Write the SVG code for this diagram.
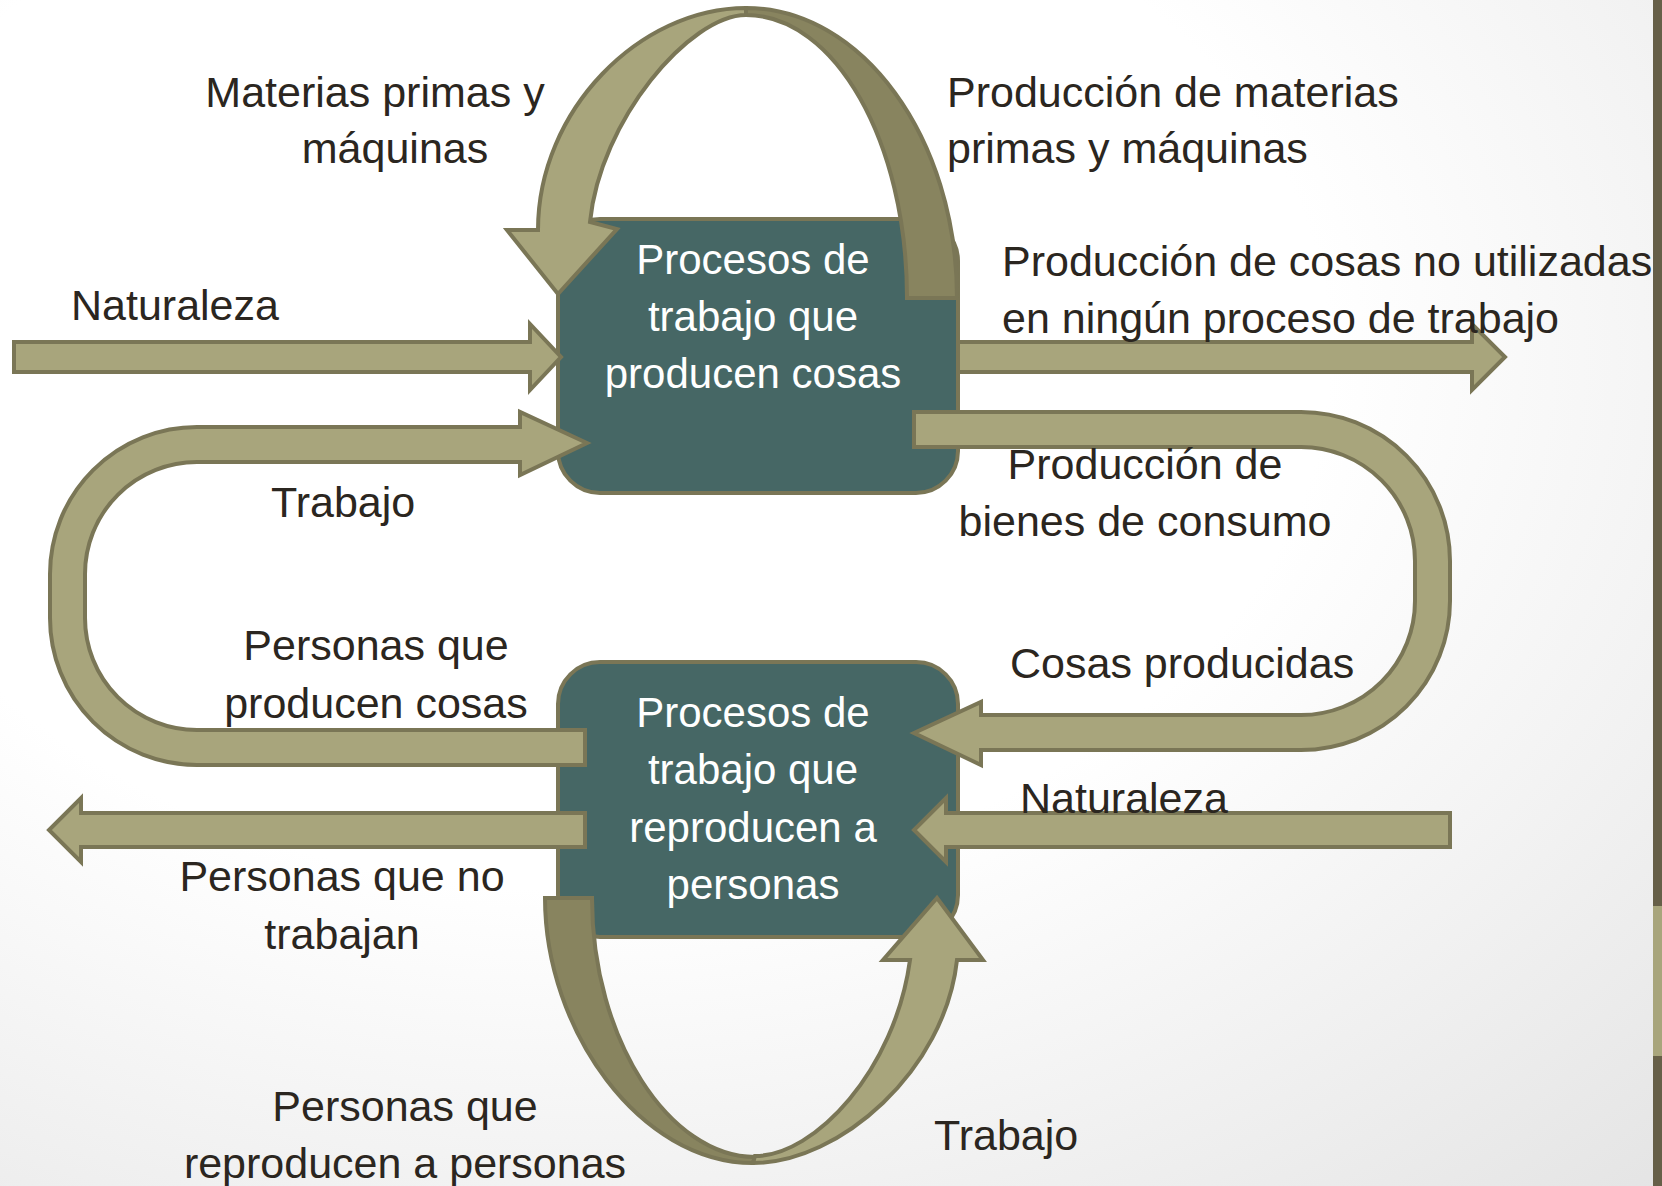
<svg xmlns="http://www.w3.org/2000/svg" width="1662" height="1186" viewBox="0 0 1662 1186">
<defs>
<radialGradient id="bg" cx="0.35" cy="0.3" r="1.0">
<stop offset="0.45" stop-color="#ffffff"/>
<stop offset="1" stop-color="#e2e2e2"/>
</radialGradient>
<style>
.box{fill:#466765;stroke:#7a7656;stroke-width:4}
.arr{fill:#a8a57c;stroke:#7a7656;stroke-width:4;stroke-linejoin:miter}
.arrd{fill:#88845f;stroke:#7a7656;stroke-width:4;stroke-linejoin:miter}
.bt{font-family:"Liberation Sans",Arial,sans-serif;font-size:42px;fill:#ffffff;text-anchor:middle}
.lb{font-family:"Liberation Sans",Arial,sans-serif;font-size:43px;fill:#2b2620}
.mid{text-anchor:middle}
</style>
</defs>
<rect x="0" y="0" width="1662" height="1186" fill="url(#bg)"/>
<rect x="1653" y="0" width="9" height="1186" fill="#665f48"/>
<rect x="1653" y="906" width="9" height="150" fill="#a8a57c"/>

<g id="box1">
<rect class="box" x="558" y="219" width="400" height="274" rx="42" ry="42"/>
<text class="bt" x="753" y="274">Procesos de</text>
<text class="bt" x="753" y="331">trabajo que</text>
<text class="bt" x="753" y="388">producen cosas</text>
</g>
<g id="box2">
<rect class="box" x="558" y="662" width="400" height="275" rx="42" ry="42"/>
<text class="bt" x="753" y="727">Procesos de</text>
<text class="bt" x="753" y="784">trabajo que</text>
<text class="bt" x="753" y="842">reproducen a</text>
<text class="bt" x="753" y="899">personas</text>
</g>

<g id="connectors">
<!-- top arch: dark right leg -->
<path class="arrd" d="M746,8 C862,8 957,138 957,298 L907,298 C907,142 835,15 746,15 Z"/>
<!-- top arch: light left leg with head -->
<path class="arr" d="M746,8 C640,8 538,110 538,230 L507,230 L558,294 L617,229 L590,222 C600,120 690,15 746,15 Z"/>
<!-- Naturaleza left -->
<path class="arr" d="M14,342 L530,342 L530,324 L561,357 L530,390 L530,372 L14,372 Z"/>
<!-- no utilizadas -->
<path class="arr" d="M958,342 L1472,342 L1472,324 L1505,357 L1472,390 L1472,372 L958,372 Z"/>
<!-- left loop: Trabajo / Personas que producen cosas -->
<path class="arr" d="M587,443 L520,412 L520,427 L197,427 A147,147 0 0 0 50,574 L50,618 A147,147 0 0 0 197,765 L585,765 L585,730 L197,730 A112,112 0 0 1 85,618 L85,574 A112,112 0 0 1 197,462 L520,462 L520,475 Z"/>
<!-- right loop: bienes de consumo / cosas producidas -->
<path class="arr" d="M914,412 L1301,412 A149,149 0 0 1 1450,561 L1450,601 A149,149 0 0 1 1301,750 L981,750 L981,765 L914,733 L981,702 L981,715 L1301,715 A114,114 0 0 0 1415,601 L1415,561 A114,114 0 0 0 1301,447 L914,447 Z"/>
<!-- Naturaleza right -->
<path class="arr" d="M1450,813 L946,813 L946,798 L914,830 L946,862 L946,847 L1450,847 Z"/>
<!-- Personas que no trabajan -->
<path class="arr" d="M585,813 L81,813 L81,798 L49,830 L81,862 L81,847 L585,847 Z"/>
<!-- bottom arch: dark left leg -->
<path class="arrd" d="M545,898 L592,898 C592,1040 670,1157 755,1157 L753,1163 C640,1163 545,1030 545,898 Z"/>
<!-- bottom arch: light right leg with head -->
<path class="arr" d="M753,1163 C840,1163 945,1070 957,960 L983,960 L937,898 L883,960 L910,960 C895,1070 815,1156 755,1156 Z"/>
</g>

<g id="labels">
<text class="lb mid" x="375" y="107">Materias primas y</text>
<text class="lb mid" x="395" y="163">máquinas</text>
<text class="lb" x="947" y="107">Producción de materias</text>
<text class="lb" x="947" y="163">primas y máquinas</text>
<text class="lb" x="71" y="320">Naturaleza</text>
<text class="lb" x="1002" y="276">Producción de cosas no utilizadas</text>
<text class="lb" x="1002" y="333">en ningún proceso de trabajo</text>
<text class="lb" x="271" y="517">Trabajo</text>
<text class="lb mid" x="1145" y="479">Producción de</text>
<text class="lb mid" x="1145" y="536">bienes de consumo</text>
<text class="lb" x="1010" y="678">Cosas producidas</text>
<text class="lb mid" x="376" y="660">Personas que</text>
<text class="lb mid" x="376" y="718">producen cosas</text>
<text class="lb" x="1020" y="813">Naturaleza</text>
<text class="lb mid" x="342" y="891">Personas que no</text>
<text class="lb mid" x="342" y="949">trabajan</text>
<text class="lb mid" x="405" y="1121">Personas que</text>
<text class="lb mid" x="405" y="1178">reproducen a personas</text>
<text class="lb" x="934" y="1150">Trabajo</text>
</g>
</svg>
